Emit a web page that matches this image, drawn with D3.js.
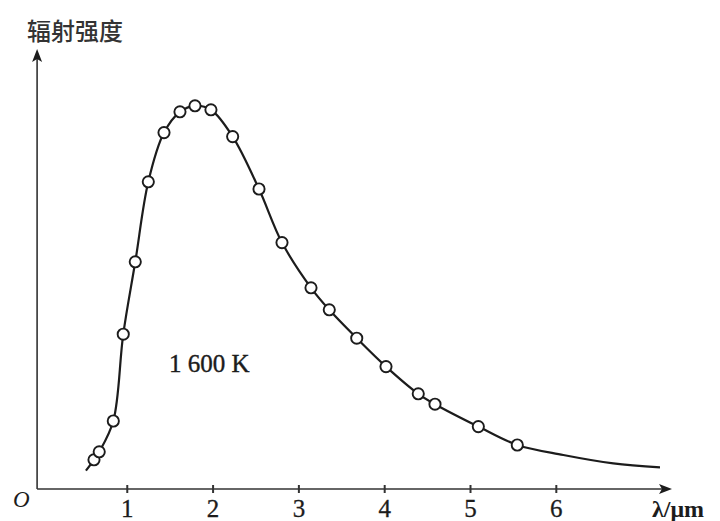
<!DOCTYPE html>
<html>
<head>
<meta charset="utf-8">
<script src="https://cdn.jsdelivr.net/npm/d3@7"></script>
<style>
  html, body { margin: 0; padding: 0; background: #fff; }
  svg { display: block; }
</style>
</head>
<body>
<svg id="chart" width="720" height="521"></svg>
<script>
// ---- data ----
const wavelength = [0.618, 0.679, 0.843, 0.959, 1.099, 1.251, 1.434, 1.620, 1.795, 1.981, 2.234,
                    2.541, 2.809, 3.147, 3.360, 3.680, 4.021, 4.397, 4.592, 5.097, 5.551];
const intensity  = [7.3, 9.3, 17.0, 38.7, 56.8, 76.8, 89.1, 94.3, 95.8, 94.8, 88.1,
                    75.0, 61.6, 50.3, 44.8, 37.7, 30.6, 23.8, 21.2, 15.6, 11.0];
const curveStartLambda = [0.524];
const curveStartValue  = [4.6];
const curveTailLambda = [6.087, 6.67, 7.214];
const curveTailValue  = [8.5, 6.4, 5.4];
const xTicks = [1, 2, 3, 4, 5, 6];
const xTickLabels = ["1", "2", "3", "4", "5", "6"];
const yTitle = "辐射强度";
const xTitle = "λ/μm";
const originLabel = "O";
const tempLabel = "1 600 K";

// ---- drawing ----
const svg = d3.select("#chart");
const x = d3.scaleLinear().domain([-0.045, 7.354]).range([37.1, 672]);
const y = d3.scaleLinear().domain([0, 110]).range([489, 49]);
const ink = "#1c1c1c";

// axes lines
svg.append("line").attr("x1", x(-0.045)).attr("x2", x(7.354) - 6)
  .attr("y1", y(0)).attr("y2", y(0)).attr("stroke", "#333").attr("stroke-width", 1.6);
svg.append("line").attr("x1", x(-0.045)).attr("x2", x(-0.045))
  .attr("y1", y(0)).attr("y2", y(110) + 6).attr("stroke", "#333").attr("stroke-width", 1.6);

// arrowheads
const xt = x(7.354), yt = y(0);
svg.append("path").attr("d", `M${xt},${yt} L${xt - 13},${yt - 5} L${xt - 10},${yt} L${xt - 13},${yt + 5} Z`).attr("fill", ink);
const ax = x(-0.045), ay = y(110);
svg.append("path").attr("d", `M${ax},${ay} L${ax - 5},${ay + 13} L${ax},${ay + 10} L${ax + 5},${ay + 13} Z`).attr("fill", ink);

// x axis ticks & labels
const xAxis = d3.axisBottom(x).tickValues(xTicks)
  .tickFormat((d, i) => xTickLabels[i]).tickSizeInner(4).tickSizeOuter(0);
const gx = svg.append("g").attr("transform", `translate(0,${y(0)})`).call(xAxis);
gx.select(".domain").remove();
gx.selectAll(".tick line").attr("y1", -4).attr("y2", 4).attr("stroke", "#333").attr("stroke-width", 2);
gx.selectAll(".tick text").attr("y", 28).attr("dy", 0)
  .attr("font-family", "'Liberation Serif', 'DejaVu Serif', serif")
  .attr("font-size", 25).attr("fill", ink).attr("stroke", ink).attr("stroke-width", 0.3);

// curve
const curvePts = curveStartLambda.map((l, i) => [l, curveStartValue[i]])
  .concat(wavelength.map((l, i) => [l, intensity[i]]))
  .concat(curveTailLambda.map((l, i) => [l, curveTailValue[i]]));
const line = d3.line().x(d => x(d[0])).y(d => y(d[1])).curve(d3.curveCatmullRom.alpha(0.5));
svg.append("path").datum(curvePts).attr("d", line)
  .attr("fill", "none").attr("stroke", ink).attr("stroke-width", 2.2);

// points
svg.append("g").selectAll("circle").data(wavelength).join("circle")
  .attr("cx", d => x(d)).attr("cy", (d, i) => y(intensity[i])).attr("r", 5.6)
  .attr("fill", "#fff").attr("stroke", ink).attr("stroke-width", 1.9);

// texts
svg.append("text").text(yTitle).attr("x", 27).attr("y", 40)
  .attr("font-family", "'Noto Sans CJK SC', sans-serif").attr("font-size", 24)
  .attr("font-weight", 500).attr("fill", "#333");
svg.append("text").text(originLabel).attr("x", 13).attr("y", 507)
  .attr("font-family", "'Liberation Serif', serif").attr("font-style", "italic")
  .attr("font-size", 23).attr("fill", ink);
svg.append("text").text(xTitle).attr("x", 652).attr("y", 517)
  .attr("font-family", "'Liberation Serif', serif").attr("font-weight", "bold")
  .attr("font-size", 24).attr("fill", ink);
svg.append("text").text(tempLabel).attr("x", 169).attr("y", 372)
  .attr("font-family", "'Liberation Serif', serif")
  .attr("font-size", 25).attr("fill", ink).attr("stroke", ink).attr("stroke-width", 0.4);
</script>
</body>
</html>
